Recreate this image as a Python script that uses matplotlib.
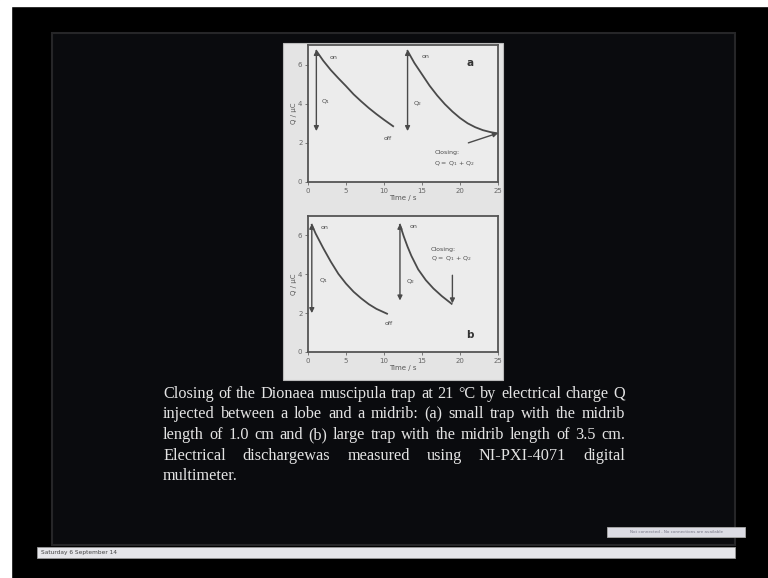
import matplotlib
matplotlib.use("Agg")
import matplotlib.pyplot as plt
from matplotlib.patches import Rectangle

# --- data ---
xticks = [0, 5, 10, 15, 20, 25]
yticks = [0, 2, 4, 6]

a1_t = [1.1, 2, 3, 4, 5, 6, 7, 8, 9, 10, 11.2]
a1_q = [6.7, 6.2, 5.72, 5.3, 4.9, 4.48, 4.12, 3.78, 3.47, 3.18, 2.85]
a2_t = [13.1, 14, 15, 16, 17, 18, 19, 20, 21, 22, 23, 24, 25]
a2_q = [6.7, 6.08, 5.5, 4.92, 4.42, 3.98, 3.6, 3.27, 3.0, 2.8, 2.65, 2.55, 2.48]

b1_t = [0.5, 1, 2, 3, 4, 5, 6, 7, 8, 9, 10.4]
b1_q = [6.55, 6.1, 5.35, 4.65, 4.02, 3.52, 3.1, 2.76, 2.46, 2.22, 1.97]
b2_t = [12.1, 12.6, 13.1, 13.6, 14.5, 15.5, 16.5, 17.6, 18.9]
b2_q = [6.55, 5.95, 5.42, 4.95, 4.25, 3.7, 3.27, 2.88, 2.48]

caption = [
    "Closing of the Dionaea muscipula trap at 21 \u00b0C by electrical charge Q",
    "injected between a lobe and a midrib: (a) small trap with the midrib",
    "length of 1.0 cm and (b) large trap with the midrib length of 3.5 cm.",
    "Electrical dischargewas measured using NI-PXI-4071 digital",
    "multimeter.",
]

W, H = 768, 578
fig = plt.figure(figsize=(W / 100, H / 100), dpi=100)
fig.patch.set_facecolor("black")


def px(x, y, w, h):
    # pixel box (top-left origin) -> figure fraction rect
    return [x / W, 1 - (y + h) / H, w / W, h / H]


bg = fig.add_axes([0, 0, 1, 1])
bg.set_xlim(0, W)
bg.set_ylim(H, 0)
bg.axis("off")
bg.add_patch(Rectangle((0, 0), W, 6, color="white"))
bg.add_patch(Rectangle((0, 0), 11, H, color="white"))
bg.add_patch(Rectangle((52, 33), 683, 512, facecolor="#0a0b0e", edgecolor="#262628", lw=1.5))
bg.add_patch(Rectangle((283, 43), 220, 337, facecolor="#e4e4e4", edgecolor="#bbbbbb", lw=0.8))
bg.add_patch(Rectangle((37, 547), 698, 11, facecolor="#e6e6ea", edgecolor="#999999", lw=0.6))
bg.text(41, 552.5, "Saturday 6 September 14", fontsize=4.2, color="#444444", va="center")
bg.add_patch(Rectangle((607, 527), 138, 10, facecolor="#dcdce4", edgecolor="#aaaaaa", lw=0.6))
bg.text(676, 532, "Not connected - No connections are available", fontsize=3.0,
        color="#777788", va="center", ha="center")

ink = "#4a4a4a"
tfs = 5


def panel(rect, curves, arrows, labels, letter, letter_xy):
    ax = fig.add_axes(rect)
    ax.set_facecolor("#ececec")
    for t, q in curves:
        ax.plot(t, q, color=ink, lw=1.3)
    for (x0, y0, x1, y1, style) in arrows:
        ax.annotate("", xy=(x1, y1), xytext=(x0, y0),
                    arrowprops=dict(arrowstyle=style, color=ink, lw=1.0,
                                    mutation_scale=7, shrinkA=0, shrinkB=0))
    for (x, y, s) in labels:
        ax.text(x, y, s, fontsize=4.5, color=ink, va="center")
    ax.text(letter_xy[0], letter_xy[1], letter, fontsize=7.5, color="#333333",
            fontweight="bold", va="center")
    ax.set_xlim(0, 25)
    ax.set_ylim(0, 7)
    ax.set_xticks(xticks)
    ax.set_yticks(yticks)
    ax.tick_params(labelsize=tfs, colors="#666666", length=2, width=0.6, pad=2)
    ax.set_xlabel("Time / s", fontsize=tfs, color="#555555", labelpad=1)
    ax.set_ylabel("Q / \u00b5C", fontsize=tfs, color="#555555", labelpad=1)
    for s in ax.spines.values():
        s.set_color("#555555")
        s.set_linewidth(1.3)
    return ax


panel(px(308, 45, 190, 137),
      [(a1_t, a1_q), (a2_t, a2_q)],
      [(1.1, 2.6, 1.1, 6.75, "<|-|>"), (13.1, 2.6, 13.1, 6.75, "<|-|>"),
       (21.1, 2.0, 25, 2.5, "-|>")],
      [(2.9, 6.35, "on"), (15.0, 6.4, "on"), (10.0, 2.2, "off"),
       (1.7, 4.1, "Q$_1$"), (13.8, 4.0, "Q$_2$"),
       (16.6, 1.5, "Closing:"), (16.6, 0.92, "Q = Q$_1$ + Q$_2$")],
      "a", (20.8, 6.1))

panel(px(308, 216, 190, 136),
      [(b1_t, b1_q), (b2_t, b2_q)],
      [(0.5, 2.0, 0.5, 6.6, "<|-|>"), (12.1, 2.65, 12.1, 6.6, "<|-|>"),
       (19.0, 3.95, 19.0, 2.5, "-|>")],
      [(1.7, 6.4, "on"), (13.4, 6.45, "on"), (10.1, 1.45, "off"),
       (1.5, 3.7, "Q$_1$"), (12.9, 3.6, "Q$_2$"),
       (16.2, 5.3, "Closing:"), (16.2, 4.8, "Q = Q$_1$ + Q$_2$")],
      "b", (20.8, 0.9))

# justified caption
left, right = 163, 625
ys = [394, 414.5, 435, 455.5, 476]
cap_kw = dict(fontsize=11.7, color="#e4e4e4", family="Liberation Serif", va="center")
renderer = fig.canvas.get_renderer()
for i, (line, y) in enumerate(zip(caption, ys)):
    words = line.split(" ")
    if i == len(caption) - 1:
        bg.text(left, y, line, **cap_kw)
        continue
    objs = [bg.text(0, y, w, **cap_kw) for w in words]
    widths = [o.get_window_extent(renderer).width for o in objs]
    gap = (right - left - sum(widths)) / (len(words) - 1)
    x = left
    for o, w in zip(objs, widths):
        o.set_x(x)
        x += w + gap

fig.savefig("out.png", dpi=100, facecolor=fig.get_facecolor())
